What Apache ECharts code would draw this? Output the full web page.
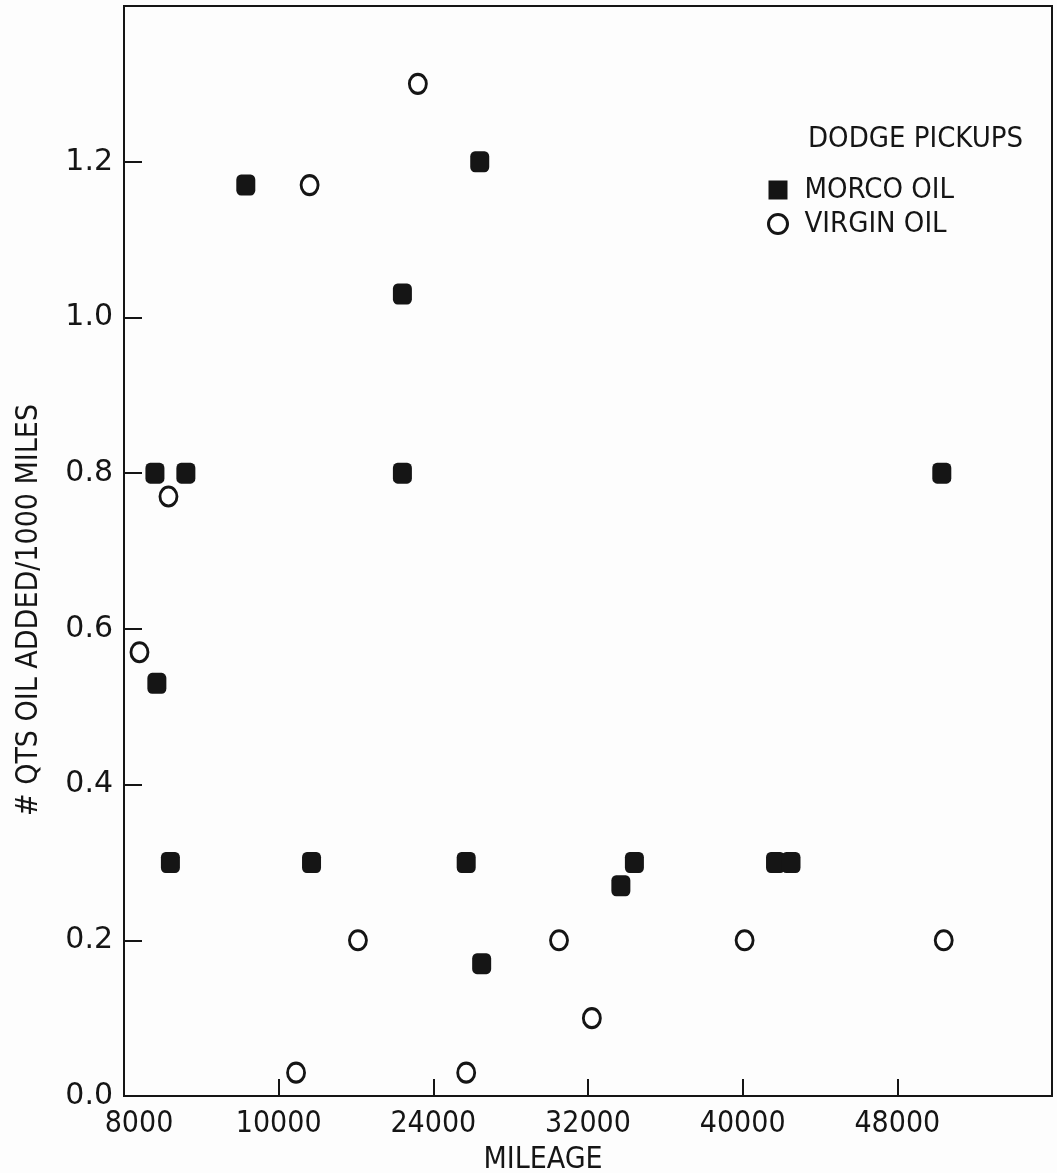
<!DOCTYPE html>
<html>
<head>
<meta charset="utf-8">
<script src="https://cdn.jsdelivr.net/npm/echarts@6/dist/echarts.min.js"></script>
<style>
  html, body { margin: 0; padding: 0; background: #fdfdfd; }
  #chart { width: 1057px; height: 1173px; }
</style>
</head>
<body>
<div id="chart"></div>
<script>
// data
var morcoMiles = [9600, 11200, 9700, 10400, 14300, 17700, 22400, 22400, 25700, 26400, 26500, 33700, 34400, 41700, 42500, 50300];
var morcoQts   = [0.80, 0.80, 0.53, 0.30, 1.17, 0.30, 1.03, 0.80, 0.30, 1.20, 0.17, 0.27, 0.30, 0.30, 0.30, 0.80];
var virginMiles = [23200, 17600, 10300, 8800, 20100, 30500, 40100, 50400, 32200, 16900, 25700];
var virginQts   = [1.30, 1.17, 0.77, 0.57, 0.20, 0.20, 0.20, 0.20, 0.10, 0.03, 0.03];
var xTickLabels = ['8000', '10000', '24000', '32000', '40000', '48000', ''];
var yTickLabels = ['0.0', '0.2', '0.4', '0.6', '0.8', '1.0', '1.2', ''];

var ink = '#151515';
var narrow = '"Liberation Sans Narrow", "DejaVu Sans Condensed", sans-serif';

function pairs(xs, ys) {
  var out = [];
  for (var i = 0; i < xs.length; i++) out.push([xs[i], ys[i]]);
  return out;
}

var chart = echarts.init(document.getElementById('chart'));

var option = {
  backgroundColor: '#fdfdfd',
  animation: false,
  grid: {
    left: 124, right: 5, top: 6, bottom: 77,
    show: true, borderColor: ink, borderWidth: 2
  },
  title: {
    text: 'DODGE PICKUPS',
    left: 808, top: 125, padding: 0,
    textStyle: { fontFamily: narrow, fontSize: 29, fontWeight: 'normal', color: ink }
  },
  legend: {
    orient: 'vertical',
    left: 767, top: 175, padding: 0,
    itemWidth: 19, itemHeight: 19, itemGap: 4,
    textStyle: { fontFamily: narrow, fontSize: 29, lineHeight: 30, color: ink, padding: [0, 0, 0, 12] },
    data: [
      { name: 'MORCO OIL', icon: 'rect' },
      { name: 'VIRGIN OIL', icon: 'circle', itemStyle: { color: '#fff', borderColor: ink, borderWidth: 3 } }
    ]
  },
  xAxis: {
    type: 'value',
    min: 8000, max: 56000, interval: 8000,
    splitLine: { show: false },
    axisLine: { lineStyle: { color: ink, width: 2 } },
    axisTick: { inside: true, length: 17, lineStyle: { color: ink, width: 2 } },
    axisLabel: {
      margin: 13,
      fontFamily: narrow, fontSize: 30, color: ink,
      formatter: function (v) {
        var i = Math.round((v - 8000) / 8000);
        return i === 0 ? '{first|' + xTickLabels[i] + '}' : xTickLabels[i];
      },
      rich: { first: { fontFamily: narrow, fontSize: 30, color: ink, padding: [0, 0, 0, 30] } }
    }
  },
  yAxis: {
    type: 'value',
    min: 0, max: 1.4, interval: 0.2,
    splitLine: { show: false },
    axisLine: { lineStyle: { color: ink, width: 2 } },
    axisTick: { inside: true, length: 18, lineStyle: { color: ink, width: 2 } },
    axisLabel: {
      margin: 11,
      fontFamily: '"DejaVu Sans", sans-serif', fontSize: 30, color: ink,
      formatter: function (v) { return yTickLabels[Math.round(v / 0.2)]; }
    }
  },
  graphic: [
    {
      type: 'text', x: 29, y: 610, rotation: Math.PI / 2,
      style: {
        text: '# QTS OIL ADDED/1000 MILES', fill: ink,
        font: '30px ' + narrow, align: 'center', verticalAlign: 'middle'
      }
    },
    {
      type: 'text', x: 543, y: 1160,
      style: {
        text: 'MILEAGE', fill: ink,
        font: '30px ' + narrow, align: 'center', verticalAlign: 'middle'
      }
    }
  ],
  series: [
    {
      name: 'MORCO OIL',
      type: 'scatter',
      symbol: 'roundRect',
      symbolSize: [19, 21],
      itemStyle: { color: ink, opacity: 1 },
      data: pairs(morcoMiles, morcoQts)
    },
    {
      name: 'VIRGIN OIL',
      type: 'scatter',
      symbol: 'circle',
      symbolSize: [17, 19],
      itemStyle: { color: '#fff', borderColor: ink, borderWidth: 3, opacity: 1 },
      data: pairs(virginMiles, virginQts)
    }
  ]
};

chart.setOption(option);
</script>
</body>
</html>
